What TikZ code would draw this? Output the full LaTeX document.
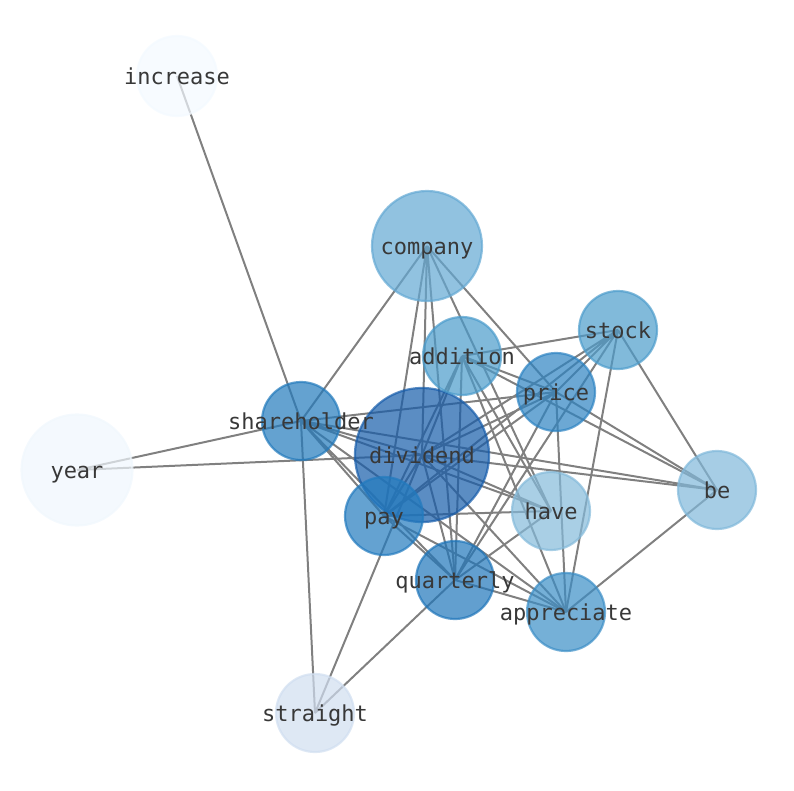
\documentclass[tikz,border=0pt]{standalone}
\usepackage{fontspec}
\setmonofont{DejaVu Sans Mono}
\usetikzlibrary{backgrounds}
\definecolor{edgegray}{RGB}{128,128,128}
\definecolor{labelgray}{RGB}{56,56,56}
\definecolor{cIncrease}{RGB}{243,249,255}
\definecolor{cYear}{RGB}{240,247,253}
\definecolor{cStraight}{RGB}{208,222,240}
\definecolor{cBe}{RGB}{128,184,218}
\definecolor{cHave}{RGB}{132,186,218}
\definecolor{cCompany}{RGB}{99,168,211}
\definecolor{cStock}{RGB}{76,156,203}
\definecolor{cAddition}{RGB}{74,155,203}
\definecolor{cPrice}{RGB}{45,131,194}
\definecolor{cAppreciate}{RGB}{59,142,198}
\definecolor{cShare}{RGB}{34,122,188}
\definecolor{cPay}{RGB}{34,122,190}
\definecolor{cQuart}{RGB}{32,118,186}
\definecolor{cDividend}{RGB}{22,92,170}
\newcommand{\wordlabel}[1]{\raisebox{-8pt}[0pt][0pt]{\makebox[0pt]{#1}}}
\tikzset{
  word/.style={circle, inner sep=0pt, line width=2.2pt, fill opacity=0.7,
    draw opacity=0.7, text opacity=1, text=labelgray,
    font=\fontsize{22}{26}\selectfont\ttfamily},
  small/.style={word, minimum size=78pt},
  edge/.style={draw=edgegray, line width=2pt}
}
\begin{document}
\begin{tikzpicture}[x=1pt, y=-1pt]
\useasboundingbox (0,0) rectangle (794,790);
% word nodes
\node[word, minimum size=134pt, fill=cDividend, draw=cDividend] (dividend) at (422,455) {\wordlabel{dividend}};
\node[word, minimum size=80pt, fill=cIncrease, draw=cIncrease] (increase) at (177,76) {\wordlabel{increase}};
\node[word, minimum size=111pt, fill=cYear, draw=cYear] (year) at (77,470) {\wordlabel{year}};
\node[word, minimum size=110pt, fill=cCompany, draw=cCompany] (company) at (427,246) {\wordlabel{company}};
\node[small, fill=cStock, draw=cStock] (stock) at (618,330) {\wordlabel{stock}};
\node[small, fill=cAddition, draw=cAddition] (addition) at (462,356) {\wordlabel{addition}};
\node[small, fill=cPrice, draw=cPrice] (price) at (556,392) {\wordlabel{price}};
\node[small, fill=cShare, draw=cShare] (shareholder) at (301,421) {\wordlabel{shareholder}};
\node[small, fill=cBe, draw=cBe] (be) at (717,490) {\wordlabel{be}};
\node[small, fill=cHave, draw=cHave] (have) at (551,511) {\wordlabel{have}};
\node[small, fill=cPay, draw=cPay] (pay) at (384,516) {\wordlabel{pay}};
\node[small, fill=cQuart, draw=cQuart] (quarterly) at (455,580) {\wordlabel{quarterly}};
\node[small, fill=cAppreciate, draw=cAppreciate] (appreciate) at (566,612) {\wordlabel{appreciate}};
\node[small, fill=cStraight, draw=cStraight] (straight) at (315,713) {\wordlabel{straight}};
% co-occurrence edges, behind the nodes
\begin{scope}[on background layer]
\draw[edge] (company.center) -- (shareholder.center) (company.center) -- (pay.center)
  (company.center) -- (dividend.center) (company.center) -- (quarterly.center)
  (company.center) -- (have.center) (company.center) -- (price.center);
\draw[edge] (increase.center) -- (shareholder.center);
\draw[edge] (year.center) -- (shareholder.center) (year.center) -- (dividend.center);
\draw[edge] (shareholder.center) -- (straight.center) (shareholder.center) -- (price.center)
  (shareholder.center) -- (be.center) (shareholder.center) -- (dividend.center)
  (shareholder.center) -- (have.center) (shareholder.center) -- (appreciate.center)
  (shareholder.center) -- (quarterly.center) (shareholder.center) -- (pay.center);
\draw[edge] (stock.center) -- (addition.center) (stock.center) -- (dividend.center)
  (stock.center) -- (pay.center) (stock.center) -- (price.center)
  (stock.center) -- (quarterly.center) (stock.center) -- (appreciate.center)
  (stock.center) -- (be.center);
\draw[edge] (addition.center) -- (price.center) (addition.center) -- (be.center)
  (addition.center) -- (dividend.center) (addition.center) -- (pay.center)
  (addition.center) -- (quarterly.center) (addition.center) -- (have.center)
  (addition.center) -- (appreciate.center);
\draw[edge] (price.center) -- (dividend.center) (price.center) -- (pay.center)
  (price.center) -- (quarterly.center) (price.center) -- (appreciate.center)
  (price.center) -- (be.center);
\draw[edge] (dividend.center) -- (be.center) (dividend.center) -- (pay.center)
  (dividend.center) -- (quarterly.center) (dividend.center) -- (appreciate.center)
  (dividend.center) -- (have.center) (dividend.center) -- (straight.center);
\draw[edge] (pay.center) -- (have.center) (pay.center) -- (quarterly.center)
  (pay.center) -- (appreciate.center);
\draw[edge] (quarterly.center) -- (have.center) (quarterly.center) -- (appreciate.center)
  (quarterly.center) -- (straight.center);
\draw[edge] (appreciate.center) -- (be.center);
\end{scope}
\end{tikzpicture}
\end{document}
